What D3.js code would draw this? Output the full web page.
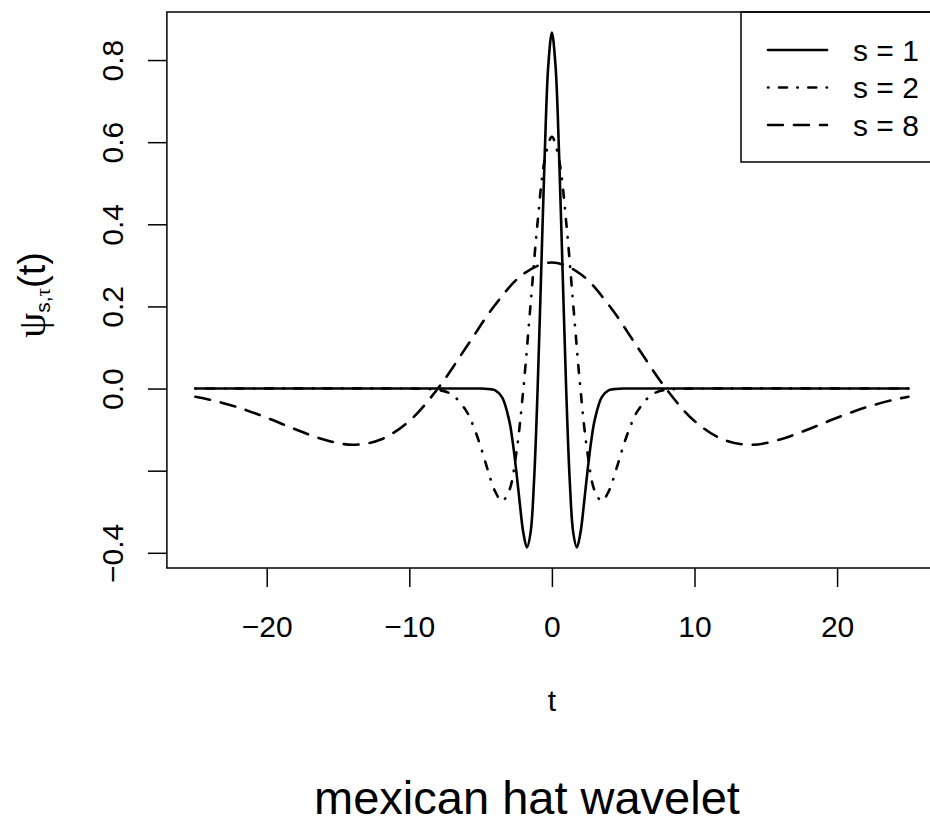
<!DOCTYPE html>
<html>
<head>
<meta charset="utf-8">
<script src="https://cdn.jsdelivr.net/npm/d3@7"></script>
<style>
  html, body { margin: 0; padding: 0; background: #fff; }
  svg { display: block; }
</style>
</head>
<body>
<script>
// Mexican hat wavelet at three scales: sampled values of psi(t)
const seriesLabels = ["s = 1", "s = 2", "s = 8"];

const tS1 = [-25, -6, -5, -4.5, -4, -3.5, -3, -2.75, -2.5, -2.25, -2, -1.75, -1.5, -1.25, -1, -0.75, -0.5, -0.25, 0,
             0.25, 0.5, 0.75, 1, 1.25, 1.5, 1.75, 2, 2.25, 2.5, 2.75, 3, 3.5, 4, 4.5, 5, 6, 25];
const psiS1 = [0, 0, 0, -0.001, -0.004, -0.021, -0.077, -0.130, -0.200, -0.280, -0.352, -0.387, -0.352, -0.223, 0, 0.286, 0.574, 0.788, 0.867,
               0.788, 0.574, 0.286, 0, -0.223, -0.352, -0.387, -0.352, -0.280, -0.200, -0.130, -0.077, -0.021, -0.004, -0.001, 0, 0, 0];

const tS2 = [-25, -10, -9, -8, -7, -6, -5.5, -5, -4.5, -4, -3.5, -3, -2.5, -2, -1.5, -1, -0.5, 0,
             0.5, 1, 1.5, 2, 2.5, 3, 3.5, 4, 4.5, 5, 5.5, 6, 7, 8, 9, 10, 25];
const psiS2 = [0, 0, -0.001, -0.003, -0.015, -0.055, -0.092, -0.141, -0.198, -0.249, -0.274, -0.249, -0.158, 0, 0.203, 0.406, 0.557, 0.613,
               0.557, 0.406, 0.203, 0, -0.158, -0.249, -0.274, -0.249, -0.198, -0.141, -0.092, -0.055, -0.015, -0.003, -0.001, 0, 0];

const tS8 = [-25, -24, -22, -20, -18, -16, -14, -12, -10, -8, -6, -4, -2, 0,
             2, 4, 6, 8, 10, 12, 14, 16, 18, 20, 22, 24, 25];
const psiS8 = [-0.020, -0.027, -0.046, -0.071, -0.099, -0.124, -0.137, -0.124, -0.079, 0, 0.101, 0.203, 0.279, 0.307,
               0.279, 0.203, 0.101, 0, -0.079, -0.124, -0.137, -0.124, -0.099, -0.071, -0.046, -0.027, -0.020];

const xTicks = [-20, -10, 0, 10, 20];
const xTickLabels = ["\u221220", "\u221210", "0", "10", "20"];
const yTicks = [-0.4, -0.2, 0, 0.2, 0.4, 0.6, 0.8];
const yTickLabels = ["\u22120.4", "", "0.0", "0.2", "0.4", "0.6", "0.8"];

const W = 930, H = 824;
const SANS = "'Liberation Sans', Arial, Helvetica, sans-serif";
const SERIF = "'Liberation Serif', 'DejaVu Serif', serif";

const svg = d3.select("body").append("svg")
  .attr("width", W).attr("height", H)
  .style("background", "#fff");

const x = d3.scaleLinear().domain([-27, 27]).range([166.9, 936.9]);
const y = d3.scaleLinear().domain([-0.437, 0.917]).range([568, 12]);

const series = [
  { label: seriesLabels[0], t: tS1, v: psiS1, dash: null },
  { label: seriesLabels[1], t: tS2, v: psiS2, dash: "0.5,10.5,8,10.3" },
  { label: seriesLabels[2], t: tS8, v: psiS8, dash: "14.9,11.1" }
];

// curves
const line = d3.line()
  .x(d => x(d[0]))
  .y(d => y(d[1]))
  .curve(d3.curveCatmullRom.alpha(0.5));

svg.append("g").selectAll("path")
  .data(series)
  .join("path")
  .attr("d", s => line(s.t.map((t, i) => [t, s.v[i]])))
  .attr("fill", "none")
  .attr("stroke", "#000")
  .attr("stroke-width", 2.6)
  .attr("stroke-linecap", "round")
  .attr("stroke-linejoin", "round")
  .attr("stroke-dasharray", s => s.dash);

// plot frame
svg.append("rect")
  .attr("x", x.range()[0]).attr("y", y.range()[1])
  .attr("width", x.range()[1] - x.range()[0])
  .attr("height", y.range()[0] - y.range()[1])
  .attr("fill", "none").attr("stroke", "#000").attr("stroke-width", 1.5);

// x axis
const gx = svg.append("g")
  .attr("transform", `translate(0,${y.range()[0]})`)
  .call(d3.axisBottom(x).tickValues(xTicks)
    .tickFormat((d, i) => xTickLabels[i])
    .tickSize(19).tickSizeOuter(0).tickPadding(28.5));
gx.select(".domain").remove();
gx.selectAll(".tick line").attr("stroke", "#000").attr("stroke-width", 1.5);
gx.selectAll(".tick text")
  .attr("font-family", SANS).attr("font-size", 30).attr("fill", "#000");

// y axis with labels parallel to the axis
const gy = svg.append("g")
  .attr("transform", `translate(${x.range()[0]},0)`)
  .call(d3.axisLeft(y).tickValues(yTicks)
    .tickFormat((d, i) => yTickLabels[i])
    .tickSize(19).tickSizeOuter(0));
gy.select(".domain").remove();
gy.selectAll(".tick line").attr("stroke", "#000").attr("stroke-width", 1.5);
gy.selectAll(".tick text")
  .attr("transform", "rotate(-90)")
  .attr("x", 0).attr("y", -44).attr("dy", null)
  .attr("text-anchor", "middle")
  .attr("font-family", SANS).attr("font-size", 30).attr("fill", "#000");

// axis titles
svg.append("text")
  .attr("x", 552).attr("y", 711)
  .attr("text-anchor", "middle")
  .attr("font-family", SANS).attr("font-size", 30)
  .text("t");

const yl = svg.append("text")
  .attr("transform", "translate(45,295) rotate(-90)")
  .attr("text-anchor", "middle")
  .attr("font-family", SANS).attr("font-size", 38);
yl.append("tspan").attr("font-family", SERIF).attr("font-size", 40).text("\u03C8");
yl.append("tspan").attr("font-size", 21).attr("dy", 5).text("s,");
yl.append("tspan").attr("font-size", 21).attr("font-family", SERIF).text("\u03C4");
yl.append("tspan").attr("dy", -5).text("(t)");

// legend
const lg = svg.append("g");
lg.append("rect")
  .attr("x", 741).attr("y", 12).attr("width", 300).attr("height", 150)
  .attr("fill", "none").attr("stroke", "#000").attr("stroke-width", 1.5);
const rows = lg.selectAll("g.row").data(series).join("g")
  .attr("class", "row")
  .attr("transform", (d, i) => `translate(0,${50 + i * 37.5})`);
rows.append("line")
  .attr("x1", 768).attr("x2", 827).attr("y1", 0).attr("y2", 0)
  .attr("stroke", "#000").attr("stroke-width", 2.6)
  .attr("stroke-linecap", "round")
  .attr("stroke-dasharray", d => d.dash);
rows.append("text")
  .attr("x", 853).attr("y", 10.8)
  .attr("font-family", SANS).attr("font-size", 30)
  .text(d => d.label);

// caption
svg.append("text")
  .attr("x", 527).attr("y", 814)
  .attr("text-anchor", "middle")
  .attr("font-family", SANS).attr("font-size", 47)
  .text("mexican hat wavelet");
</script>
</body>
</html>
